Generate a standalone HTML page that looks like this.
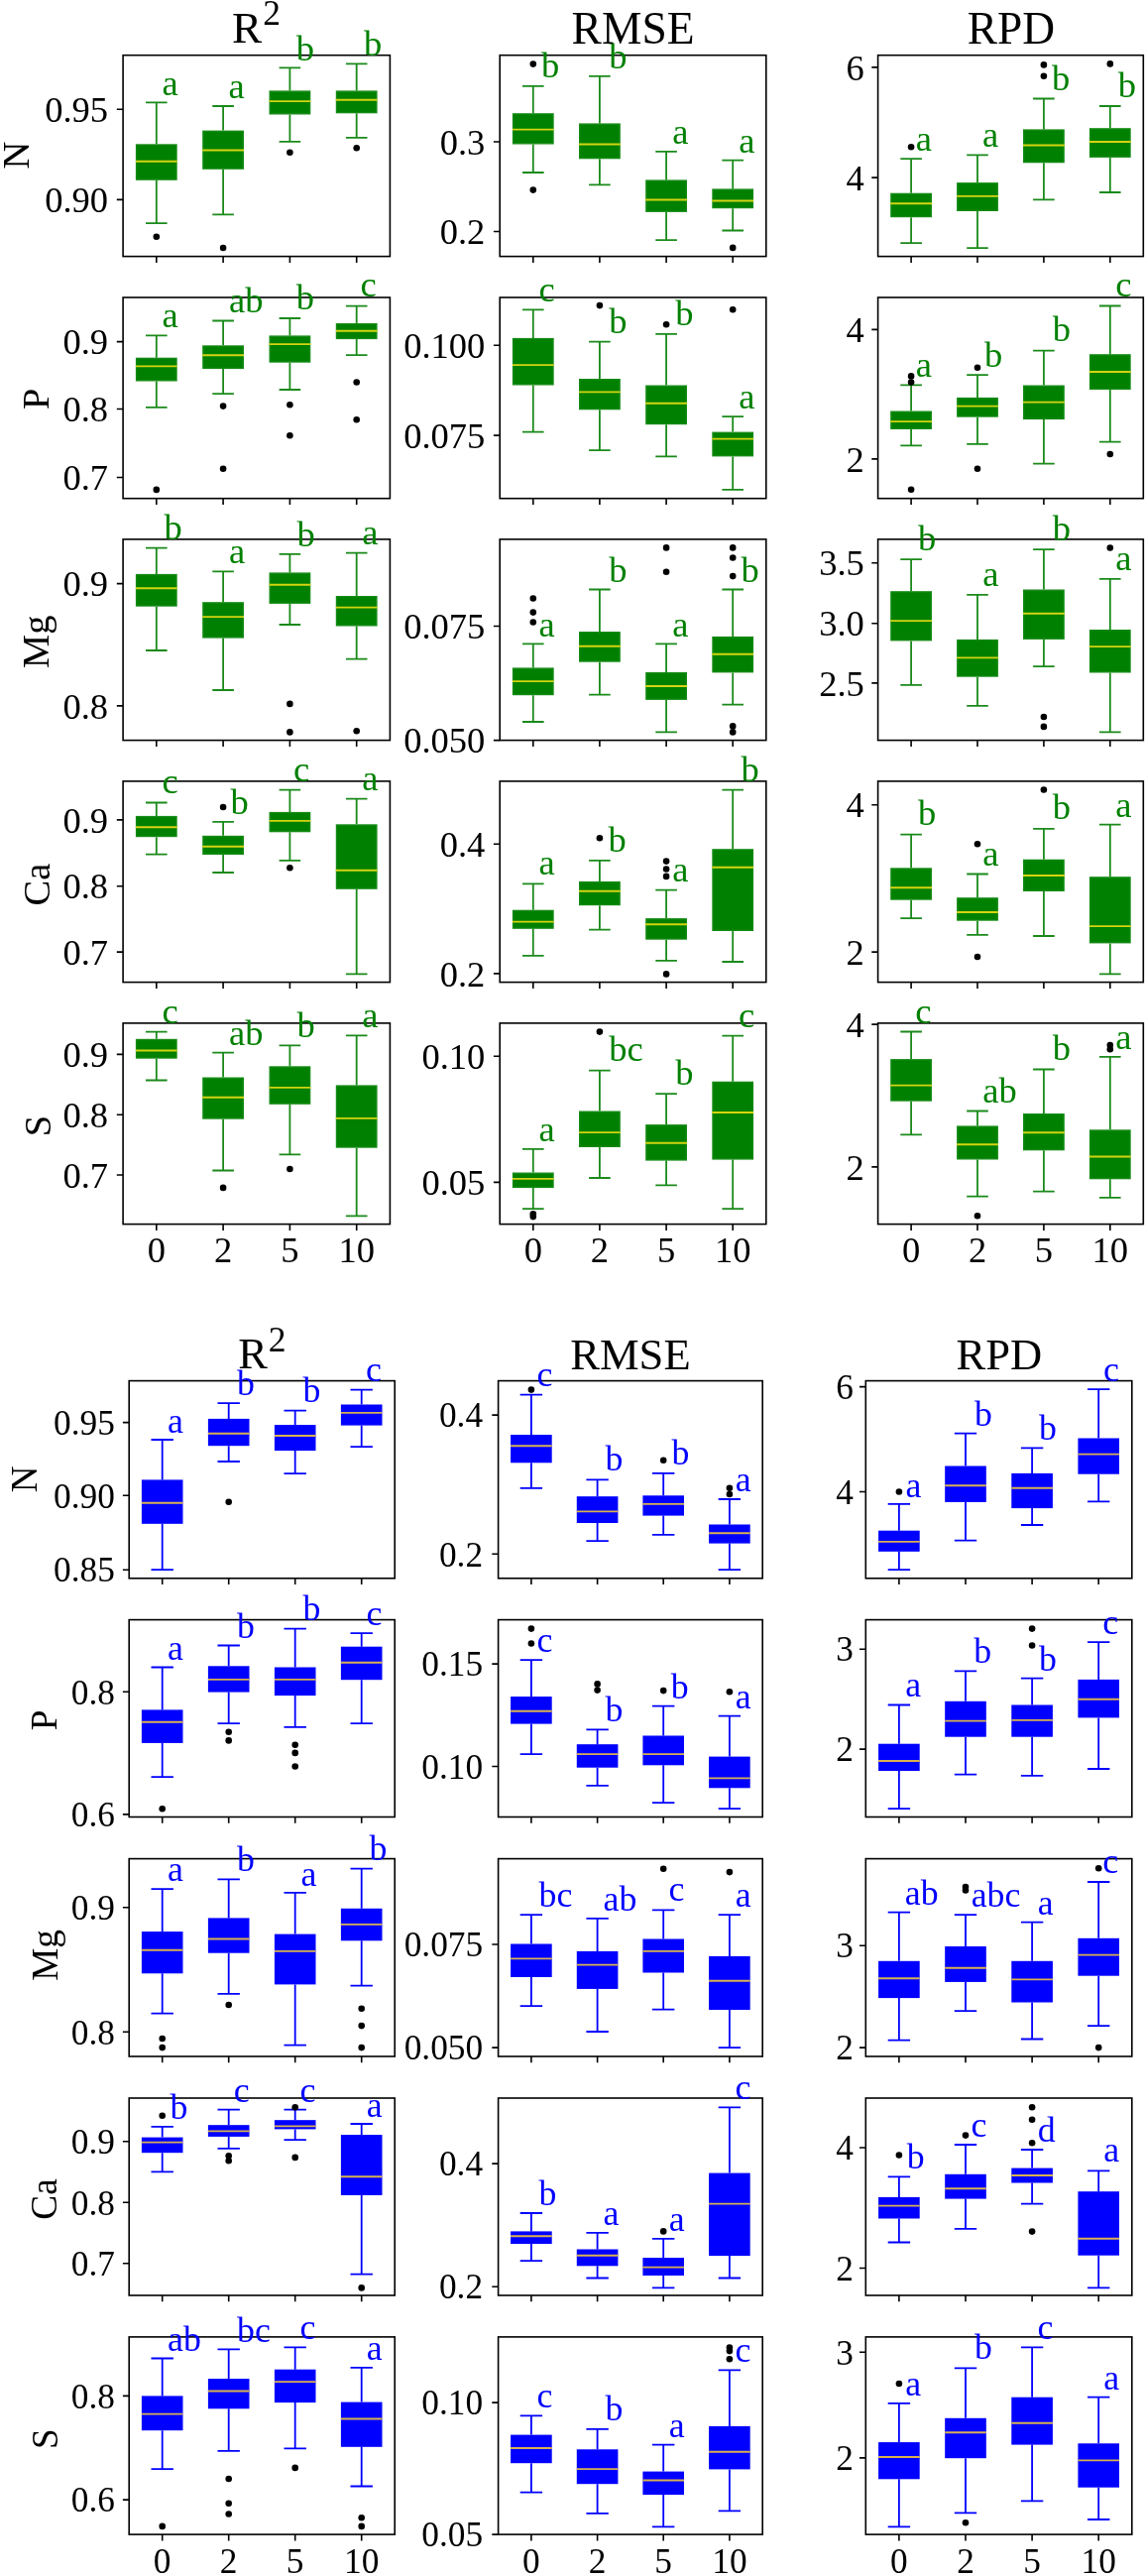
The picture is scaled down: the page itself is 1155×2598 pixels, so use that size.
<!DOCTYPE html>
<html><head><meta charset="utf-8"><style>
html,body{margin:0;padding:0;background:#fff;}
svg{display:block;font-family:"Liberation Serif",serif;will-change:transform;filter:blur(0.35px);}
</style></head><body>
<svg width="1155" height="2598" viewBox="0 0 1155 2598">
<rect width="1155" height="2598" fill="#fff"/>
<g><path d="M157.8 103.3V145.3M157.8 181.8V225.2M147.0 103.3H168.6M147.0 225.2H168.6" stroke="#1a8a1a" stroke-width="1.8" fill="none"/><rect x="137.6" y="146.0" width="40.4" height="35.1" fill="#008000" stroke="#158a15" stroke-width="1.4"/><path d="M136.9 162.8H178.7" stroke="#d4d412" stroke-width="1.9"/><circle cx="157.8" cy="238.7" r="3.3" fill="#000"/><path d="M225.1 107.0V131.6M225.1 170.8V216.4M214.3 107.0H235.9M214.3 216.4H235.9" stroke="#1a8a1a" stroke-width="1.8" fill="none"/><rect x="204.9" y="132.3" width="40.4" height="37.8" fill="#008000" stroke="#158a15" stroke-width="1.4"/><path d="M204.2 151.5H246.0" stroke="#d4d412" stroke-width="1.9"/><circle cx="225.1" cy="250.0" r="3.3" fill="#000"/><path d="M292.4 68.4V91.4M292.4 115.5V142.8M281.6 68.4H303.2M281.6 142.8H303.2" stroke="#1a8a1a" stroke-width="1.8" fill="none"/><rect x="272.2" y="92.1" width="40.4" height="22.7" fill="#008000" stroke="#158a15" stroke-width="1.4"/><path d="M271.5 102.1H313.3" stroke="#d4d412" stroke-width="1.9"/><circle cx="292.4" cy="153.8" r="3.3" fill="#000"/><path d="M359.7 64.4V91.4M359.7 114.3V138.9M348.9 64.4H370.5M348.9 138.9H370.5" stroke="#1a8a1a" stroke-width="1.8" fill="none"/><rect x="339.5" y="92.1" width="40.4" height="21.5" fill="#008000" stroke="#158a15" stroke-width="1.4"/><path d="M338.8 100.8H380.6" stroke="#d4d412" stroke-width="1.9"/><circle cx="359.7" cy="149.3" r="3.3" fill="#000"/><rect x="124.1" y="55.7" width="269.3" height="202.9" fill="none" stroke="#000" stroke-width="1.6"/><path d="M117.8 110.3H124.1M117.8 201.4H124.1M157.8 258.6V264.9M225.1 258.6V264.9M292.4 258.6V264.9M359.7 258.6V264.9" stroke="#000" stroke-width="1.6"/><text x="109.1" y="122.9" font-size="36.5" text-anchor="end">0.95</text><text x="109.1" y="214.0" font-size="36.5" text-anchor="end">0.90</text><text x="163.5" y="95.6" font-size="36.5" fill="#008000">a</text><text x="230.5" y="99.3" font-size="36.5" fill="#008000">a</text><text x="298.8" y="60.8" font-size="36.5" fill="#008000">b</text><text x="367.0" y="56.4" font-size="36.5" fill="#008000">b</text></g>
<g><path d="M537.8 86.9V114.2M537.8 145.5V174.0M527.0 86.9H548.6M527.0 174.0H548.6" stroke="#1a8a1a" stroke-width="1.8" fill="none"/><rect x="517.6" y="114.9" width="40.4" height="29.9" fill="#008000" stroke="#158a15" stroke-width="1.4"/><path d="M516.9 130.6H558.7" stroke="#d4d412" stroke-width="1.9"/><circle cx="537.8" cy="64.6" r="3.3" fill="#000"/><circle cx="537.8" cy="191.6" r="3.3" fill="#000"/><path d="M604.9 76.8V124.4M604.9 160.3V186.4M594.1 76.8H615.7M594.1 186.4H615.7" stroke="#1a8a1a" stroke-width="1.8" fill="none"/><rect x="584.7" y="125.1" width="40.4" height="34.5" fill="#008000" stroke="#158a15" stroke-width="1.4"/><path d="M584.0 145.5H625.8" stroke="#d4d412" stroke-width="1.9"/><path d="M672.1 152.9V181.4M672.1 213.9V242.2M661.3 152.9H682.9M661.3 242.2H682.9" stroke="#1a8a1a" stroke-width="1.8" fill="none"/><rect x="651.9" y="182.1" width="40.4" height="31.1" fill="#008000" stroke="#158a15" stroke-width="1.4"/><path d="M651.2 201.5H693.0" stroke="#d4d412" stroke-width="1.9"/><path d="M739.2 161.6V190.4M739.2 210.2V232.5M728.4 161.6H750.0M728.4 232.5H750.0" stroke="#1a8a1a" stroke-width="1.8" fill="none"/><rect x="719.0" y="191.1" width="40.4" height="18.4" fill="#008000" stroke="#158a15" stroke-width="1.4"/><path d="M718.3 202.5H760.1" stroke="#d4d412" stroke-width="1.9"/><circle cx="739.2" cy="249.9" r="3.3" fill="#000"/><rect x="504.2" y="55.7" width="268.6" height="202.9" fill="none" stroke="#000" stroke-width="1.6"/><path d="M497.9 143.0H504.2M497.9 233.5H504.2M537.8 258.6V264.9M604.9 258.6V264.9M672.1 258.6V264.9M739.2 258.6V264.9" stroke="#000" stroke-width="1.6"/><text x="489.3" y="155.6" font-size="36.5" text-anchor="end">0.3</text><text x="489.3" y="246.1" font-size="36.5" text-anchor="end">0.2</text><text x="546.1" y="78.0" font-size="36.5" fill="#008000">b</text><text x="614.3" y="68.8" font-size="36.5" fill="#008000">b</text><text x="678.2" y="145.2" font-size="36.5" fill="#008000">a</text><text x="745.2" y="153.6" font-size="36.5" fill="#008000">a</text></g>
<g><path d="M919.1 160.1V194.7M919.1 219.2V245.1M908.3 160.1H929.9M908.3 245.1H929.9" stroke="#1a8a1a" stroke-width="1.8" fill="none"/><rect x="898.9" y="195.4" width="40.4" height="23.1" fill="#008000" stroke="#158a15" stroke-width="1.4"/><path d="M898.2 205.3H940.0" stroke="#d4d412" stroke-width="1.9"/><circle cx="919.1" cy="148.2" r="3.3" fill="#000"/><path d="M986.0 156.4V184.1M986.0 213.0V250.1M975.2 156.4H996.8M975.2 250.1H996.8" stroke="#1a8a1a" stroke-width="1.8" fill="none"/><rect x="965.8" y="184.8" width="40.4" height="27.5" fill="#008000" stroke="#158a15" stroke-width="1.4"/><path d="M965.1 197.9H1006.9" stroke="#d4d412" stroke-width="1.9"/><path d="M1052.9 99.5V130.4M1052.9 164.3V201.4M1042.1 99.5H1063.7M1042.1 201.4H1063.7" stroke="#1a8a1a" stroke-width="1.8" fill="none"/><rect x="1032.7" y="131.1" width="40.4" height="32.5" fill="#008000" stroke="#158a15" stroke-width="1.4"/><path d="M1032.0 146.5H1073.8" stroke="#d4d412" stroke-width="1.9"/><circle cx="1052.9" cy="65.4" r="3.3" fill="#000"/><circle cx="1052.9" cy="76.8" r="3.3" fill="#000"/><path d="M1119.8 107.0V129.2M1119.8 158.9V194.0M1109.0 107.0H1130.6M1109.0 194.0H1130.6" stroke="#1a8a1a" stroke-width="1.8" fill="none"/><rect x="1099.6" y="129.9" width="40.4" height="28.3" fill="#008000" stroke="#158a15" stroke-width="1.4"/><path d="M1098.9 143.0H1140.7" stroke="#d4d412" stroke-width="1.9"/><circle cx="1119.8" cy="64.4" r="3.3" fill="#000"/><rect x="885.6" y="55.7" width="267.7" height="202.9" fill="none" stroke="#000" stroke-width="1.6"/><path d="M879.3 67.9H885.6M879.3 179.1H885.6M919.1 258.6V264.9M986.0 258.6V264.9M1052.9 258.6V264.9M1119.8 258.6V264.9" stroke="#000" stroke-width="1.6"/><text x="871.8" y="80.5" font-size="36.5" text-anchor="end">6</text><text x="871.8" y="191.7" font-size="36.5" text-anchor="end">4</text><text x="923.8" y="152.1" font-size="36.5" fill="#008000">a</text><text x="991.1" y="147.7" font-size="36.5" fill="#008000">a</text><text x="1061.0" y="90.8" font-size="36.5" fill="#008000">b</text><text x="1127.8" y="98.3" font-size="36.5" fill="#008000">b</text></g>
<g><path d="M157.8 338.4V360.7M157.8 384.5V410.8M147.0 338.4H168.6M147.0 410.8H168.6" stroke="#1a8a1a" stroke-width="1.8" fill="none"/><rect x="137.6" y="361.4" width="40.4" height="22.4" fill="#008000" stroke="#158a15" stroke-width="1.4"/><path d="M136.9 369.4H178.7" stroke="#d4d412" stroke-width="1.9"/><circle cx="157.8" cy="493.9" r="3.3" fill="#000"/><path d="M225.1 323.5V348.3M225.1 372.1V397.2M214.3 323.5H235.9M214.3 397.2H235.9" stroke="#1a8a1a" stroke-width="1.8" fill="none"/><rect x="204.9" y="349.0" width="40.4" height="22.4" fill="#008000" stroke="#158a15" stroke-width="1.4"/><path d="M204.2 358.2H246.0" stroke="#d4d412" stroke-width="1.9"/><circle cx="225.1" cy="409.6" r="3.3" fill="#000"/><circle cx="225.1" cy="472.8" r="3.3" fill="#000"/><path d="M292.4 321.0V338.4M292.4 365.7V393.0M281.6 321.0H303.2M281.6 393.0H303.2" stroke="#1a8a1a" stroke-width="1.8" fill="none"/><rect x="272.2" y="339.1" width="40.4" height="25.9" fill="#008000" stroke="#158a15" stroke-width="1.4"/><path d="M271.5 347.1H313.3" stroke="#d4d412" stroke-width="1.9"/><circle cx="292.4" cy="408.3" r="3.3" fill="#000"/><circle cx="292.4" cy="439.3" r="3.3" fill="#000"/><path d="M359.7 308.6V326.0M359.7 342.1V358.2M348.9 308.6H370.5M348.9 358.2H370.5" stroke="#1a8a1a" stroke-width="1.8" fill="none"/><rect x="339.5" y="326.7" width="40.4" height="14.7" fill="#008000" stroke="#158a15" stroke-width="1.4"/><path d="M338.8 333.7H380.6" stroke="#d4d412" stroke-width="1.9"/><circle cx="359.7" cy="385.5" r="3.3" fill="#000"/><circle cx="359.7" cy="423.2" r="3.3" fill="#000"/><rect x="124.1" y="300.0" width="269.3" height="202.7" fill="none" stroke="#000" stroke-width="1.6"/><path d="M117.8 344.6H124.1M117.8 412.5H124.1M117.8 481.5H124.1M157.8 502.7V509.0M225.1 502.7V509.0M292.4 502.7V509.0M359.7 502.7V509.0" stroke="#000" stroke-width="1.6"/><text x="109.1" y="357.2" font-size="36.5" text-anchor="end">0.9</text><text x="109.1" y="425.1" font-size="36.5" text-anchor="end">0.8</text><text x="109.1" y="494.1" font-size="36.5" text-anchor="end">0.7</text><text x="163.5" y="330.2" font-size="36.5" fill="#008000">a</text><text x="231.0" y="315.3" font-size="36.5" fill="#008000">ab</text><text x="298.8" y="312.3" font-size="36.5" fill="#008000">b</text><text x="363.6" y="299.4" font-size="36.5" fill="#008000">c</text></g>
<g><path d="M537.8 312.3V340.9M537.8 388.5V435.6M527.0 312.3H548.6M527.0 435.6H548.6" stroke="#1a8a1a" stroke-width="1.8" fill="none"/><rect x="517.6" y="341.6" width="40.4" height="46.2" fill="#008000" stroke="#158a15" stroke-width="1.4"/><path d="M516.9 368.1H558.7" stroke="#d4d412" stroke-width="1.9"/><path d="M604.9 344.6V382.0M604.9 413.3V454.2M594.1 344.6H615.7M594.1 454.2H615.7" stroke="#1a8a1a" stroke-width="1.8" fill="none"/><rect x="584.7" y="382.7" width="40.4" height="29.9" fill="#008000" stroke="#158a15" stroke-width="1.4"/><path d="M584.0 395.4H625.8" stroke="#d4d412" stroke-width="1.9"/><circle cx="604.9" cy="308.1" r="3.3" fill="#000"/><path d="M672.1 336.9V388.5M672.1 428.2V460.4M661.3 336.9H682.9M661.3 460.4H682.9" stroke="#1a8a1a" stroke-width="1.8" fill="none"/><rect x="651.9" y="389.2" width="40.4" height="38.3" fill="#008000" stroke="#158a15" stroke-width="1.4"/><path d="M651.2 406.8H693.0" stroke="#d4d412" stroke-width="1.9"/><circle cx="672.1" cy="327.2" r="3.3" fill="#000"/><path d="M739.2 420.2V435.6M739.2 460.4V493.9M728.4 420.2H750.0M728.4 493.9H750.0" stroke="#1a8a1a" stroke-width="1.8" fill="none"/><rect x="719.0" y="436.3" width="40.4" height="23.4" fill="#008000" stroke="#158a15" stroke-width="1.4"/><path d="M718.3 442.6H760.1" stroke="#d4d412" stroke-width="1.9"/><circle cx="739.2" cy="312.3" r="3.3" fill="#000"/><rect x="504.2" y="300.0" width="268.6" height="202.7" fill="none" stroke="#000" stroke-width="1.6"/><path d="M497.9 348.3H504.2M497.9 439.1H504.2M537.8 502.7V509.0M604.9 502.7V509.0M672.1 502.7V509.0M739.2 502.7V509.0" stroke="#000" stroke-width="1.6"/><text x="489.3" y="360.9" font-size="36.5" text-anchor="end">0.100</text><text x="489.3" y="451.7" font-size="36.5" text-anchor="end">0.075</text><text x="543.4" y="303.6" font-size="36.5" fill="#008000">c</text><text x="614.3" y="335.9" font-size="36.5" fill="#008000">b</text><text x="681.3" y="328.4" font-size="36.5" fill="#008000">b</text><text x="745.2" y="411.5" font-size="36.5" fill="#008000">a</text></g>
<g><path d="M919.1 388.3V414.5M919.1 433.0V449.3M908.3 388.3H929.9M908.3 449.3H929.9" stroke="#1a8a1a" stroke-width="1.8" fill="none"/><rect x="898.9" y="415.2" width="40.4" height="17.1" fill="#008000" stroke="#158a15" stroke-width="1.4"/><path d="M898.2 425.1H940.0" stroke="#d4d412" stroke-width="1.9"/><circle cx="919.1" cy="379.4" r="3.3" fill="#000"/><circle cx="919.1" cy="385.6" r="3.3" fill="#000"/><circle cx="919.1" cy="493.8" r="3.3" fill="#000"/><path d="M986.0 378.2V400.9M986.0 420.7V447.9M975.2 378.2H996.8M975.2 447.9H996.8" stroke="#1a8a1a" stroke-width="1.8" fill="none"/><rect x="965.8" y="401.6" width="40.4" height="18.4" fill="#008000" stroke="#158a15" stroke-width="1.4"/><path d="M965.1 409.6H1006.9" stroke="#d4d412" stroke-width="1.9"/><circle cx="986.0" cy="370.7" r="3.3" fill="#000"/><circle cx="986.0" cy="472.8" r="3.3" fill="#000"/><path d="M1052.9 353.7V388.5M1052.9 423.1V467.6M1042.1 353.7H1063.7M1042.1 467.6H1063.7" stroke="#1a8a1a" stroke-width="1.8" fill="none"/><rect x="1032.7" y="389.2" width="40.4" height="33.2" fill="#008000" stroke="#158a15" stroke-width="1.4"/><path d="M1032.0 405.6H1073.8" stroke="#d4d412" stroke-width="1.9"/><path d="M1119.8 308.5V357.2M1119.8 393.0V445.6M1109.0 308.5H1130.6M1109.0 445.6H1130.6" stroke="#1a8a1a" stroke-width="1.8" fill="none"/><rect x="1099.6" y="357.9" width="40.4" height="34.4" fill="#008000" stroke="#158a15" stroke-width="1.4"/><path d="M1098.9 375.0H1140.7" stroke="#d4d412" stroke-width="1.9"/><circle cx="1119.8" cy="458.0" r="3.3" fill="#000"/><rect x="885.6" y="300.0" width="267.7" height="202.7" fill="none" stroke="#000" stroke-width="1.6"/><path d="M879.3 332.4H885.6M879.3 462.9H885.6M919.1 502.7V509.0M986.0 502.7V509.0M1052.9 502.7V509.0M1119.8 502.7V509.0" stroke="#000" stroke-width="1.6"/><text x="871.8" y="345.0" font-size="36.5" text-anchor="end">4</text><text x="871.8" y="475.5" font-size="36.5" text-anchor="end">2</text><text x="923.8" y="380.1" font-size="36.5" fill="#008000">a</text><text x="993.1" y="370.2" font-size="36.5" fill="#008000">b</text><text x="1061.8" y="344.3" font-size="36.5" fill="#008000">b</text><text x="1125.2" y="299.3" font-size="36.5" fill="#008000">c</text></g>
<g><path d="M157.8 552.6V578.9M157.8 611.7V656.0M147.0 552.6H168.6M147.0 656.0H168.6" stroke="#1a8a1a" stroke-width="1.8" fill="none"/><rect x="137.6" y="579.6" width="40.4" height="31.4" fill="#008000" stroke="#158a15" stroke-width="1.4"/><path d="M136.9 593.3H178.7" stroke="#d4d412" stroke-width="1.9"/><path d="M225.1 576.4V607.2M225.1 643.6V696.0M214.3 576.4H235.9M214.3 696.0H235.9" stroke="#1a8a1a" stroke-width="1.8" fill="none"/><rect x="204.9" y="607.9" width="40.4" height="35.0" fill="#008000" stroke="#158a15" stroke-width="1.4"/><path d="M204.2 622.1H246.0" stroke="#d4d412" stroke-width="1.9"/><path d="M292.4 558.8V577.4M292.4 608.9V630.0M281.6 558.8H303.2M281.6 630.0H303.2" stroke="#1a8a1a" stroke-width="1.8" fill="none"/><rect x="272.2" y="578.1" width="40.4" height="30.1" fill="#008000" stroke="#158a15" stroke-width="1.4"/><path d="M271.5 589.8H313.3" stroke="#d4d412" stroke-width="1.9"/><circle cx="292.4" cy="709.9" r="3.3" fill="#000"/><circle cx="292.4" cy="738.4" r="3.3" fill="#000"/><path d="M359.7 557.6V601.0M359.7 631.5V664.7M348.9 557.6H370.5M348.9 664.7H370.5" stroke="#1a8a1a" stroke-width="1.8" fill="none"/><rect x="339.5" y="601.7" width="40.4" height="29.1" fill="#008000" stroke="#158a15" stroke-width="1.4"/><path d="M338.8 612.6H380.6" stroke="#d4d412" stroke-width="1.9"/><circle cx="359.7" cy="737.2" r="3.3" fill="#000"/><rect x="124.1" y="543.9" width="269.3" height="202.7" fill="none" stroke="#000" stroke-width="1.6"/><path d="M117.8 588.6H124.1M117.8 711.9H124.1M157.8 746.6V752.9M225.1 746.6V752.9M292.4 746.6V752.9M359.7 746.6V752.9" stroke="#000" stroke-width="1.6"/><text x="109.1" y="601.2" font-size="36.5" text-anchor="end">0.9</text><text x="109.1" y="724.5" font-size="36.5" text-anchor="end">0.8</text><text x="165.6" y="543.9" font-size="36.5" fill="#008000">b</text><text x="231.0" y="567.5" font-size="36.5" fill="#008000">a</text><text x="299.5" y="550.8" font-size="36.5" fill="#008000">b</text><text x="365.2" y="549.4" font-size="36.5" fill="#008000">a</text></g>
<g><path d="M537.8 649.4V673.4M537.8 701.2V728.0M527.0 649.4H548.6M527.0 728.0H548.6" stroke="#1a8a1a" stroke-width="1.8" fill="none"/><rect x="517.6" y="674.1" width="40.4" height="26.4" fill="#008000" stroke="#158a15" stroke-width="1.4"/><path d="M516.9 687.1H558.7" stroke="#d4d412" stroke-width="1.9"/><circle cx="537.8" cy="603.5" r="3.3" fill="#000"/><circle cx="537.8" cy="617.6" r="3.3" fill="#000"/><circle cx="537.8" cy="627.5" r="3.3" fill="#000"/><path d="M604.9 594.5V637.0M604.9 667.7V700.7M594.1 594.5H615.7M594.1 700.7H615.7" stroke="#1a8a1a" stroke-width="1.8" fill="none"/><rect x="584.7" y="637.7" width="40.4" height="29.3" fill="#008000" stroke="#158a15" stroke-width="1.4"/><path d="M584.0 651.8H625.8" stroke="#d4d412" stroke-width="1.9"/><path d="M672.1 649.4V677.9M672.1 705.9V738.4M661.3 649.4H682.9M661.3 738.4H682.9" stroke="#1a8a1a" stroke-width="1.8" fill="none"/><rect x="651.9" y="678.6" width="40.4" height="26.6" fill="#008000" stroke="#158a15" stroke-width="1.4"/><path d="M651.2 692.0H693.0" stroke="#d4d412" stroke-width="1.9"/><circle cx="672.1" cy="552.4" r="3.3" fill="#000"/><circle cx="672.1" cy="576.7" r="3.3" fill="#000"/><path d="M739.2 594.5V641.9M739.2 678.4V710.6M728.4 594.5H750.0M728.4 710.6H750.0" stroke="#1a8a1a" stroke-width="1.8" fill="none"/><rect x="719.0" y="642.6" width="40.4" height="35.1" fill="#008000" stroke="#158a15" stroke-width="1.4"/><path d="M718.3 659.8H760.1" stroke="#d4d412" stroke-width="1.9"/><circle cx="739.2" cy="552.4" r="3.3" fill="#000"/><circle cx="739.2" cy="562.5" r="3.3" fill="#000"/><circle cx="739.2" cy="581.1" r="3.3" fill="#000"/><circle cx="739.2" cy="732.4" r="3.3" fill="#000"/><circle cx="739.2" cy="738.4" r="3.3" fill="#000"/><rect x="504.2" y="543.9" width="268.6" height="202.7" fill="none" stroke="#000" stroke-width="1.6"/><path d="M497.9 631.5H504.2M497.9 746.6H504.2M537.8 746.6V752.9M604.9 746.6V752.9M672.1 746.6V752.9M739.2 746.6V752.9" stroke="#000" stroke-width="1.6"/><text x="489.3" y="644.1" font-size="36.5" text-anchor="end">0.075</text><text x="489.3" y="759.2" font-size="36.5" text-anchor="end">0.050</text><text x="543.5" y="641.9" font-size="36.5" fill="#008000">a</text><text x="614.3" y="586.6" font-size="36.5" fill="#008000">b</text><text x="678.2" y="641.9" font-size="36.5" fill="#008000">a</text><text x="747.5" y="586.6" font-size="36.5" fill="#008000">b</text></g>
<g><path d="M919.1 564.1V596.2M919.1 646.4V690.9M908.3 564.1H929.9M908.3 690.9H929.9" stroke="#1a8a1a" stroke-width="1.8" fill="none"/><rect x="898.9" y="596.9" width="40.4" height="48.8" fill="#008000" stroke="#158a15" stroke-width="1.4"/><path d="M898.2 626.1H940.0" stroke="#d4d412" stroke-width="1.9"/><path d="M986.0 599.9V644.9M986.0 682.7V711.9M975.2 599.9H996.8M975.2 711.9H996.8" stroke="#1a8a1a" stroke-width="1.8" fill="none"/><rect x="965.8" y="645.6" width="40.4" height="36.4" fill="#008000" stroke="#158a15" stroke-width="1.4"/><path d="M965.1 663.4H1006.9" stroke="#d4d412" stroke-width="1.9"/><path d="M1052.9 554.2V594.5M1052.9 644.9V672.1M1042.1 554.2H1063.7M1042.1 672.1H1063.7" stroke="#1a8a1a" stroke-width="1.8" fill="none"/><rect x="1032.7" y="595.2" width="40.4" height="49.0" fill="#008000" stroke="#158a15" stroke-width="1.4"/><path d="M1032.0 618.7H1073.8" stroke="#d4d412" stroke-width="1.9"/><circle cx="1052.9" cy="723.0" r="3.3" fill="#000"/><circle cx="1052.9" cy="732.9" r="3.3" fill="#000"/><path d="M1119.8 583.9V635.0M1119.8 678.5V738.3M1109.0 583.9H1130.6M1109.0 738.3H1130.6" stroke="#1a8a1a" stroke-width="1.8" fill="none"/><rect x="1099.6" y="635.7" width="40.4" height="42.1" fill="#008000" stroke="#158a15" stroke-width="1.4"/><path d="M1098.9 652.1H1140.7" stroke="#d4d412" stroke-width="1.9"/><circle cx="1119.8" cy="552.5" r="3.3" fill="#000"/><rect x="885.6" y="543.9" width="267.7" height="202.7" fill="none" stroke="#000" stroke-width="1.6"/><path d="M879.3 567.8H885.6M879.3 628.8H885.6M879.3 688.9H885.6M919.1 746.6V752.9M986.0 746.6V752.9M1052.9 746.6V752.9M1119.8 746.6V752.9" stroke="#000" stroke-width="1.6"/><text x="871.8" y="580.4" font-size="36.5" text-anchor="end">3.5</text><text x="871.8" y="641.4" font-size="36.5" text-anchor="end">3.0</text><text x="871.8" y="701.5" font-size="36.5" text-anchor="end">2.5</text><text x="925.9" y="554.9" font-size="36.5" fill="#008000">b</text><text x="991.3" y="591.2" font-size="36.5" fill="#008000">a</text><text x="1061.8" y="545.0" font-size="36.5" fill="#008000">b</text><text x="1125.3" y="574.7" font-size="36.5" fill="#008000">a</text></g>
<g><path d="M157.8 809.5V822.9M157.8 844.2V861.6M147.0 809.5H168.6M147.0 861.6H168.6" stroke="#1a8a1a" stroke-width="1.8" fill="none"/><rect x="137.6" y="823.6" width="40.4" height="19.9" fill="#008000" stroke="#158a15" stroke-width="1.4"/><path d="M136.9 834.3H178.7" stroke="#d4d412" stroke-width="1.9"/><path d="M225.1 828.9V842.8M225.1 862.1V880.0M214.3 828.9H235.9M214.3 880.0H235.9" stroke="#1a8a1a" stroke-width="1.8" fill="none"/><rect x="204.9" y="843.5" width="40.4" height="17.9" fill="#008000" stroke="#158a15" stroke-width="1.4"/><path d="M204.2 853.7H246.0" stroke="#d4d412" stroke-width="1.9"/><circle cx="225.1" cy="814.0" r="3.3" fill="#000"/><path d="M292.4 796.6V818.9M292.4 839.3V867.8M281.6 796.6H303.2M281.6 867.8H303.2" stroke="#1a8a1a" stroke-width="1.8" fill="none"/><rect x="272.2" y="819.6" width="40.4" height="19.0" fill="#008000" stroke="#158a15" stroke-width="1.4"/><path d="M271.5 827.9H313.3" stroke="#d4d412" stroke-width="1.9"/><circle cx="292.4" cy="875.2" r="3.3" fill="#000"/><path d="M359.7 805.6V831.3M359.7 896.8V982.4M348.9 805.6H370.5M348.9 982.4H370.5" stroke="#1a8a1a" stroke-width="1.8" fill="none"/><rect x="339.5" y="832.0" width="40.4" height="64.1" fill="#008000" stroke="#158a15" stroke-width="1.4"/><path d="M338.8 877.7H380.6" stroke="#d4d412" stroke-width="1.9"/><rect x="124.1" y="787.9" width="269.3" height="202.7" fill="none" stroke="#000" stroke-width="1.6"/><path d="M117.8 826.9H124.1M117.8 893.8H124.1M117.8 960.1H124.1M157.8 990.6V996.9M225.1 990.6V996.9M292.4 990.6V996.9M359.7 990.6V996.9" stroke="#000" stroke-width="1.6"/><text x="109.1" y="839.5" font-size="36.5" text-anchor="end">0.9</text><text x="109.1" y="906.4" font-size="36.5" text-anchor="end">0.8</text><text x="109.1" y="972.7" font-size="36.5" text-anchor="end">0.7</text><text x="163.4" y="800.3" font-size="36.5" fill="#008000">c</text><text x="232.6" y="820.6" font-size="36.5" fill="#008000">b</text><text x="296.1" y="788.4" font-size="36.5" fill="#008000">c</text><text x="365.2" y="797.3" font-size="36.5" fill="#008000">a</text></g>
<g><path d="M537.8 891.4V917.7M537.8 936.8V963.8M527.0 891.4H548.6M527.0 963.8H548.6" stroke="#1a8a1a" stroke-width="1.8" fill="none"/><rect x="517.6" y="918.4" width="40.4" height="17.7" fill="#008000" stroke="#158a15" stroke-width="1.4"/><path d="M516.9 929.6H558.7" stroke="#d4d412" stroke-width="1.9"/><path d="M604.9 867.8V888.9M604.9 913.2V937.7M594.1 867.8H615.7M594.1 937.7H615.7" stroke="#1a8a1a" stroke-width="1.8" fill="none"/><rect x="584.7" y="889.6" width="40.4" height="22.9" fill="#008000" stroke="#158a15" stroke-width="1.4"/><path d="M584.0 898.8H625.8" stroke="#d4d412" stroke-width="1.9"/><circle cx="604.9" cy="845.2" r="3.3" fill="#000"/><path d="M672.1 897.6V926.1M672.1 947.7V968.8M661.3 897.6H682.9M661.3 968.8H682.9" stroke="#1a8a1a" stroke-width="1.8" fill="none"/><rect x="651.9" y="926.8" width="40.4" height="20.2" fill="#008000" stroke="#158a15" stroke-width="1.4"/><path d="M651.2 932.3H693.0" stroke="#d4d412" stroke-width="1.9"/><circle cx="672.1" cy="868.6" r="3.3" fill="#000"/><circle cx="672.1" cy="876.5" r="3.3" fill="#000"/><circle cx="672.1" cy="883.9" r="3.3" fill="#000"/><circle cx="672.1" cy="982.4" r="3.3" fill="#000"/><path d="M739.2 796.6V856.2M739.2 939.0V970.0M728.4 796.6H750.0M728.4 970.0H750.0" stroke="#1a8a1a" stroke-width="1.8" fill="none"/><rect x="719.0" y="856.9" width="40.4" height="81.4" fill="#008000" stroke="#158a15" stroke-width="1.4"/><path d="M718.3 874.8H760.1" stroke="#d4d412" stroke-width="1.9"/><rect x="504.2" y="787.9" width="268.6" height="202.7" fill="none" stroke="#000" stroke-width="1.6"/><path d="M497.9 851.2H504.2M497.9 981.9H504.2M537.8 990.6V996.9M604.9 990.6V996.9M672.1 990.6V996.9M739.2 990.6V996.9" stroke="#000" stroke-width="1.6"/><text x="489.3" y="863.8" font-size="36.5" text-anchor="end">0.4</text><text x="489.3" y="994.5" font-size="36.5" text-anchor="end">0.2</text><text x="543.5" y="882.1" font-size="36.5" fill="#008000">a</text><text x="613.5" y="859.3" font-size="36.5" fill="#008000">b</text><text x="678.2" y="889.1" font-size="36.5" fill="#008000">a</text><text x="747.5" y="788.4" font-size="36.5" fill="#008000">b</text></g>
<g><path d="M919.1 841.7V875.3M919.1 907.7V926.2M908.3 841.7H929.9M908.3 926.2H929.9" stroke="#1a8a1a" stroke-width="1.8" fill="none"/><rect x="898.9" y="876.0" width="40.4" height="31.0" fill="#008000" stroke="#158a15" stroke-width="1.4"/><path d="M898.2 895.3H940.0" stroke="#d4d412" stroke-width="1.9"/><path d="M986.0 881.5V905.2M986.0 928.7V942.8M975.2 881.5H996.8M975.2 942.8H996.8" stroke="#1a8a1a" stroke-width="1.8" fill="none"/><rect x="965.8" y="905.9" width="40.4" height="22.1" fill="#008000" stroke="#158a15" stroke-width="1.4"/><path d="M965.1 920.0H1006.9" stroke="#d4d412" stroke-width="1.9"/><circle cx="986.0" cy="851.3" r="3.3" fill="#000"/><circle cx="986.0" cy="965.0" r="3.3" fill="#000"/><path d="M1052.9 835.8V866.7M1052.9 899.0V944.0M1042.1 835.8H1063.7M1042.1 944.0H1063.7" stroke="#1a8a1a" stroke-width="1.8" fill="none"/><rect x="1032.7" y="867.4" width="40.4" height="30.9" fill="#008000" stroke="#158a15" stroke-width="1.4"/><path d="M1032.0 883.0H1073.8" stroke="#d4d412" stroke-width="1.9"/><circle cx="1052.9" cy="796.5" r="3.3" fill="#000"/><path d="M1119.8 831.6V884.2M1119.8 951.4V982.3M1109.0 831.6H1130.6M1109.0 982.3H1130.6" stroke="#1a8a1a" stroke-width="1.8" fill="none"/><rect x="1099.6" y="884.9" width="40.4" height="65.8" fill="#008000" stroke="#158a15" stroke-width="1.4"/><path d="M1098.9 934.1H1140.7" stroke="#d4d412" stroke-width="1.9"/><rect x="885.6" y="787.9" width="267.7" height="202.7" fill="none" stroke="#000" stroke-width="1.6"/><path d="M879.3 811.8H885.6M879.3 960.1H885.6M919.1 990.6V996.9M986.0 990.6V996.9M1052.9 990.6V996.9M1119.8 990.6V996.9" stroke="#000" stroke-width="1.6"/><text x="871.8" y="824.4" font-size="36.5" text-anchor="end">4</text><text x="871.8" y="972.7" font-size="36.5" text-anchor="end">2</text><text x="925.9" y="832.3" font-size="36.5" fill="#008000">b</text><text x="991.3" y="873.0" font-size="36.5" fill="#008000">a</text><text x="1061.8" y="826.1" font-size="36.5" fill="#008000">b</text><text x="1125.3" y="823.6" font-size="36.5" fill="#008000">a</text></g>
<g><path d="M157.8 1040.6V1047.8M157.8 1067.7V1089.5M147.0 1040.6H168.6M147.0 1089.5H168.6" stroke="#1a8a1a" stroke-width="1.8" fill="none"/><rect x="137.6" y="1048.5" width="40.4" height="18.5" fill="#008000" stroke="#158a15" stroke-width="1.4"/><path d="M136.9 1059.5H178.7" stroke="#d4d412" stroke-width="1.9"/><path d="M225.1 1061.7V1086.5M225.1 1128.7V1180.5M214.3 1061.7H235.9M214.3 1180.5H235.9" stroke="#1a8a1a" stroke-width="1.8" fill="none"/><rect x="204.9" y="1087.2" width="40.4" height="40.8" fill="#008000" stroke="#158a15" stroke-width="1.4"/><path d="M204.2 1106.8H246.0" stroke="#d4d412" stroke-width="1.9"/><circle cx="225.1" cy="1197.9" r="3.3" fill="#000"/><path d="M292.4 1054.3V1075.3M292.4 1113.8V1164.4M281.6 1054.3H303.2M281.6 1164.4H303.2" stroke="#1a8a1a" stroke-width="1.8" fill="none"/><rect x="272.2" y="1076.0" width="40.4" height="37.1" fill="#008000" stroke="#158a15" stroke-width="1.4"/><path d="M271.5 1096.9H313.3" stroke="#d4d412" stroke-width="1.9"/><circle cx="292.4" cy="1179.0" r="3.3" fill="#000"/><path d="M359.7 1044.3V1094.4M359.7 1157.7V1226.4M348.9 1044.3H370.5M348.9 1226.4H370.5" stroke="#1a8a1a" stroke-width="1.8" fill="none"/><rect x="339.5" y="1095.1" width="40.4" height="61.9" fill="#008000" stroke="#158a15" stroke-width="1.4"/><path d="M338.8 1127.9H380.6" stroke="#d4d412" stroke-width="1.9"/><rect x="124.1" y="1031.9" width="269.3" height="202.7" fill="none" stroke="#000" stroke-width="1.6"/><path d="M117.8 1063.4H124.1M117.8 1124.2H124.1M117.8 1185.0H124.1M157.8 1234.6V1240.9M225.1 1234.6V1240.9M292.4 1234.6V1240.9M359.7 1234.6V1240.9" stroke="#000" stroke-width="1.6"/><text x="109.1" y="1076.0" font-size="36.5" text-anchor="end">0.9</text><text x="109.1" y="1136.8" font-size="36.5" text-anchor="end">0.8</text><text x="109.1" y="1197.6" font-size="36.5" text-anchor="end">0.7</text><text x="157.8" y="1273.4" font-size="36.5" text-anchor="middle">0</text><text x="225.1" y="1273.4" font-size="36.5" text-anchor="middle">2</text><text x="292.4" y="1273.4" font-size="36.5" text-anchor="middle">5</text><text x="359.7" y="1273.4" font-size="36.5" text-anchor="middle">10</text><text x="163.4" y="1031.9" font-size="36.5" fill="#008000">c</text><text x="231.0" y="1053.7" font-size="36.5" fill="#008000">ab</text><text x="299.5" y="1046.3" font-size="36.5" fill="#008000">b</text><text x="365.2" y="1035.6" font-size="36.5" fill="#008000">a</text></g>
<g><path d="M537.8 1158.9V1182.5M537.8 1198.1V1219.2M527.0 1158.9H548.6M527.0 1219.2H548.6" stroke="#1a8a1a" stroke-width="1.8" fill="none"/><rect x="517.6" y="1183.2" width="40.4" height="14.2" fill="#008000" stroke="#158a15" stroke-width="1.4"/><path d="M516.9 1188.9H558.7" stroke="#d4d412" stroke-width="1.9"/><circle cx="537.8" cy="1224.2" r="3.3" fill="#000"/><circle cx="537.8" cy="1227.1" r="3.3" fill="#000"/><path d="M604.9 1079.6V1120.5M604.9 1157.0V1188.0M594.1 1079.6H615.7M594.1 1188.0H615.7" stroke="#1a8a1a" stroke-width="1.8" fill="none"/><rect x="584.7" y="1121.2" width="40.4" height="35.1" fill="#008000" stroke="#158a15" stroke-width="1.4"/><path d="M584.0 1142.1H625.8" stroke="#d4d412" stroke-width="1.9"/><circle cx="604.9" cy="1040.6" r="3.3" fill="#000"/><path d="M672.1 1103.1V1134.1M672.1 1170.6V1195.4M661.3 1103.1H682.9M661.3 1195.4H682.9" stroke="#1a8a1a" stroke-width="1.8" fill="none"/><rect x="651.9" y="1134.8" width="40.4" height="35.1" fill="#008000" stroke="#158a15" stroke-width="1.4"/><path d="M651.2 1152.7H693.0" stroke="#d4d412" stroke-width="1.9"/><path d="M739.2 1044.6V1090.7M739.2 1169.6V1219.2M728.4 1044.6H750.0M728.4 1219.2H750.0" stroke="#1a8a1a" stroke-width="1.8" fill="none"/><rect x="719.0" y="1091.4" width="40.4" height="77.5" fill="#008000" stroke="#158a15" stroke-width="1.4"/><path d="M718.3 1122.0H760.1" stroke="#d4d412" stroke-width="1.9"/><rect x="504.2" y="1031.9" width="268.6" height="202.7" fill="none" stroke="#000" stroke-width="1.6"/><path d="M497.9 1065.2H504.2M497.9 1192.4H504.2M537.8 1234.6V1240.9M604.9 1234.6V1240.9M672.1 1234.6V1240.9M739.2 1234.6V1240.9" stroke="#000" stroke-width="1.6"/><text x="489.3" y="1077.8" font-size="36.5" text-anchor="end">0.10</text><text x="489.3" y="1205.0" font-size="36.5" text-anchor="end">0.05</text><text x="537.8" y="1273.4" font-size="36.5" text-anchor="middle">0</text><text x="604.9" y="1273.4" font-size="36.5" text-anchor="middle">2</text><text x="672.1" y="1273.4" font-size="36.5" text-anchor="middle">5</text><text x="739.2" y="1273.4" font-size="36.5" text-anchor="middle">10</text><text x="543.5" y="1151.0" font-size="36.5" fill="#008000">a</text><text x="614.3" y="1070.3" font-size="36.5" fill="#008000">bc</text><text x="681.3" y="1093.9" font-size="36.5" fill="#008000">b</text><text x="745.1" y="1035.6" font-size="36.5" fill="#008000">c</text></g>
<g><path d="M919.1 1040.5V1068.1M919.1 1110.7V1144.3M908.3 1040.5H929.9M908.3 1144.3H929.9" stroke="#1a8a1a" stroke-width="1.8" fill="none"/><rect x="898.9" y="1068.8" width="40.4" height="41.2" fill="#008000" stroke="#158a15" stroke-width="1.4"/><path d="M898.2 1094.6H940.0" stroke="#d4d412" stroke-width="1.9"/><path d="M986.0 1120.5V1135.4M986.0 1169.5V1206.6M975.2 1120.5H996.8M975.2 1206.6H996.8" stroke="#1a8a1a" stroke-width="1.8" fill="none"/><rect x="965.8" y="1136.1" width="40.4" height="32.7" fill="#008000" stroke="#158a15" stroke-width="1.4"/><path d="M965.1 1154.2H1006.9" stroke="#d4d412" stroke-width="1.9"/><circle cx="986.0" cy="1226.3" r="3.3" fill="#000"/><path d="M1052.9 1078.5V1123.0M1052.9 1160.3V1201.6M1042.1 1078.5H1063.7M1042.1 1201.6H1063.7" stroke="#1a8a1a" stroke-width="1.8" fill="none"/><rect x="1032.7" y="1123.7" width="40.4" height="35.9" fill="#008000" stroke="#158a15" stroke-width="1.4"/><path d="M1032.0 1142.3H1073.8" stroke="#d4d412" stroke-width="1.9"/><path d="M1119.8 1065.9V1139.3M1119.8 1189.3V1207.8M1109.0 1065.9H1130.6M1109.0 1207.8H1130.6" stroke="#1a8a1a" stroke-width="1.8" fill="none"/><rect x="1099.6" y="1140.0" width="40.4" height="48.6" fill="#008000" stroke="#158a15" stroke-width="1.4"/><path d="M1098.9 1166.5H1140.7" stroke="#d4d412" stroke-width="1.9"/><circle cx="1119.8" cy="1054.1" r="3.3" fill="#000"/><circle cx="1119.8" cy="1058.3" r="3.3" fill="#000"/><rect x="885.6" y="1031.9" width="267.7" height="202.7" fill="none" stroke="#000" stroke-width="1.6"/><path d="M879.3 1033.1H885.6M879.3 1176.9H885.6M919.1 1234.6V1240.9M986.0 1234.6V1240.9M1052.9 1234.6V1240.9M1119.8 1234.6V1240.9" stroke="#000" stroke-width="1.6"/><text x="871.8" y="1045.7" font-size="36.5" text-anchor="end">4</text><text x="871.8" y="1189.5" font-size="36.5" text-anchor="end">2</text><text x="919.1" y="1273.4" font-size="36.5" text-anchor="middle">0</text><text x="986.0" y="1273.4" font-size="36.5" text-anchor="middle">2</text><text x="1052.9" y="1273.4" font-size="36.5" text-anchor="middle">5</text><text x="1119.8" y="1273.4" font-size="36.5" text-anchor="middle">10</text><text x="923.2" y="1031.8" font-size="36.5" fill="#008000">c</text><text x="991.3" y="1112.1" font-size="36.5" fill="#008000">ab</text><text x="1061.8" y="1068.8" font-size="36.5" fill="#008000">b</text><text x="1125.3" y="1057.7" font-size="36.5" fill="#008000">a</text></g>
<g><path d="M163.7 1452.0V1492.4M163.7 1536.8V1583.2M152.5 1452.0H174.9M152.5 1583.2H174.9" stroke="#0000ff" stroke-width="1.8" fill="none"/><rect x="143.6" y="1493.1" width="40.2" height="43.0" fill="#0000ff" stroke="#0000ff" stroke-width="1.4"/><path d="M142.9 1515.7H184.5" stroke="#d8b050" stroke-width="1.9"/><path d="M230.7 1415.2V1430.9M230.7 1458.2V1474.0M219.5 1415.2H241.9M219.5 1474.0H241.9" stroke="#0000ff" stroke-width="1.8" fill="none"/><rect x="210.6" y="1431.6" width="40.2" height="25.9" fill="#0000ff" stroke="#0000ff" stroke-width="1.4"/><path d="M209.9 1445.7H251.5" stroke="#d8b050" stroke-width="1.9"/><circle cx="230.7" cy="1514.7" r="3.3" fill="#000"/><path d="M297.7 1422.7V1437.1M297.7 1463.1V1486.2M286.5 1422.7H308.9M286.5 1486.2H308.9" stroke="#0000ff" stroke-width="1.8" fill="none"/><rect x="277.6" y="1437.8" width="40.2" height="24.6" fill="#0000ff" stroke="#0000ff" stroke-width="1.4"/><path d="M276.9 1448.0H318.5" stroke="#d8b050" stroke-width="1.9"/><path d="M364.7 1401.6V1416.5M364.7 1437.6V1459.1M353.5 1401.6H375.9M353.5 1459.1H375.9" stroke="#0000ff" stroke-width="1.8" fill="none"/><rect x="344.6" y="1417.2" width="40.2" height="19.7" fill="#0000ff" stroke="#0000ff" stroke-width="1.4"/><path d="M343.9 1424.9H385.5" stroke="#d8b050" stroke-width="1.9"/><rect x="130.2" y="1392.6" width="268.0" height="199.2" fill="none" stroke="#000" stroke-width="1.6"/><path d="M123.9 1434.6H130.2M123.9 1508.3H130.2M123.9 1583.2H130.2M163.7 1591.8V1598.1M230.7 1591.8V1598.1M297.7 1591.8V1598.1M364.7 1591.8V1598.1" stroke="#000" stroke-width="1.6"/><text x="115.9" y="1446.8" font-size="35.3" text-anchor="end">0.95</text><text x="115.9" y="1520.5" font-size="35.3" text-anchor="end">0.90</text><text x="115.9" y="1595.4" font-size="35.3" text-anchor="end">0.85</text><text x="169.0" y="1444.5" font-size="35.8" fill="#0000ff">a</text><text x="239.0" y="1406.5" font-size="35.8" fill="#0000ff">b</text><text x="305.5" y="1414.0" font-size="35.8" fill="#0000ff">b</text><text x="369.1" y="1392.9" font-size="35.8" fill="#0000ff">c</text></g>
<g><path d="M535.9 1406.6V1447.0M535.9 1475.3V1500.8M524.7 1406.6H547.1M524.7 1500.8H547.1" stroke="#0000ff" stroke-width="1.8" fill="none"/><rect x="515.8" y="1447.7" width="40.2" height="26.9" fill="#0000ff" stroke="#0000ff" stroke-width="1.4"/><path d="M515.1 1458.2H556.7" stroke="#d8b050" stroke-width="1.9"/><circle cx="535.9" cy="1401.6" r="3.3" fill="#000"/><path d="M602.6 1492.4V1509.2M602.6 1536.0V1554.1M591.4 1492.4H613.8M591.4 1554.1H613.8" stroke="#0000ff" stroke-width="1.8" fill="none"/><rect x="582.5" y="1509.9" width="40.2" height="25.4" fill="#0000ff" stroke="#0000ff" stroke-width="1.4"/><path d="M581.8 1524.4H623.4" stroke="#d8b050" stroke-width="1.9"/><path d="M669.2 1485.9V1508.3M669.2 1528.6V1547.9M658.0 1485.9H680.4M658.0 1547.9H680.4" stroke="#0000ff" stroke-width="1.8" fill="none"/><rect x="649.1" y="1509.0" width="40.2" height="18.9" fill="#0000ff" stroke="#0000ff" stroke-width="1.4"/><path d="M648.4 1516.9H690.0" stroke="#d8b050" stroke-width="1.9"/><circle cx="669.2" cy="1472.8" r="3.3" fill="#000"/><path d="M735.9 1512.0V1537.5M735.9 1556.6V1583.2M724.7 1512.0H747.1M724.7 1583.2H747.1" stroke="#0000ff" stroke-width="1.8" fill="none"/><rect x="715.8" y="1538.2" width="40.2" height="17.7" fill="#0000ff" stroke="#0000ff" stroke-width="1.4"/><path d="M715.1 1546.2H756.7" stroke="#d8b050" stroke-width="1.9"/><circle cx="735.9" cy="1500.8" r="3.3" fill="#000"/><circle cx="735.9" cy="1507.0" r="3.3" fill="#000"/><rect x="502.6" y="1392.6" width="266.6" height="199.2" fill="none" stroke="#000" stroke-width="1.6"/><path d="M496.3 1427.1H502.6M496.3 1567.3H502.6M535.9 1591.8V1598.1M602.6 1591.8V1598.1M669.2 1591.8V1598.1M735.9 1591.8V1598.1" stroke="#000" stroke-width="1.6"/><text x="487.1" y="1439.3" font-size="35.3" text-anchor="end">0.4</text><text x="487.1" y="1579.5" font-size="35.3" text-anchor="end">0.2</text><text x="541.4" y="1398.3" font-size="35.8" fill="#0000ff">c</text><text x="610.6" y="1483.4" font-size="35.8" fill="#0000ff">b</text><text x="677.5" y="1476.7" font-size="35.8" fill="#0000ff">b</text><text x="741.7" y="1503.7" font-size="35.8" fill="#0000ff">a</text></g>
<g><path d="M906.9 1516.9V1543.7M906.9 1564.8V1583.2M895.7 1516.9H918.1M895.7 1583.2H918.1" stroke="#0000ff" stroke-width="1.8" fill="none"/><rect x="886.8" y="1544.4" width="40.2" height="19.7" fill="#0000ff" stroke="#0000ff" stroke-width="1.4"/><path d="M886.1 1554.9H927.7" stroke="#d8b050" stroke-width="1.9"/><circle cx="906.9" cy="1504.5" r="3.3" fill="#000"/><path d="M974.0 1445.7V1478.5M974.0 1514.9V1553.6M962.8 1445.7H985.2M962.8 1553.6H985.2" stroke="#0000ff" stroke-width="1.8" fill="none"/><rect x="953.9" y="1479.2" width="40.2" height="35.0" fill="#0000ff" stroke="#0000ff" stroke-width="1.4"/><path d="M953.2 1498.3H994.8" stroke="#d8b050" stroke-width="1.9"/><path d="M1041.1 1460.4V1485.9M1041.1 1521.1V1538.0M1029.9 1460.4H1052.3M1029.9 1538.0H1052.3" stroke="#0000ff" stroke-width="1.8" fill="none"/><rect x="1021.0" y="1486.6" width="40.2" height="33.8" fill="#0000ff" stroke="#0000ff" stroke-width="1.4"/><path d="M1020.3 1500.8H1061.9" stroke="#d8b050" stroke-width="1.9"/><path d="M1108.2 1401.1V1450.5M1108.2 1486.7V1514.4M1097.0 1401.1H1119.4M1097.0 1514.4H1119.4" stroke="#0000ff" stroke-width="1.8" fill="none"/><rect x="1088.1" y="1451.2" width="40.2" height="34.8" fill="#0000ff" stroke="#0000ff" stroke-width="1.4"/><path d="M1087.4 1466.6H1129.0" stroke="#d8b050" stroke-width="1.9"/><rect x="873.3" y="1392.6" width="268.5" height="199.2" fill="none" stroke="#000" stroke-width="1.6"/><path d="M867.0 1398.6H873.3M867.0 1504.5H873.3M906.9 1591.8V1598.1M974.0 1591.8V1598.1M1041.1 1591.8V1598.1M1108.2 1591.8V1598.1" stroke="#000" stroke-width="1.6"/><text x="861.0" y="1410.8" font-size="35.3" text-anchor="end">6</text><text x="861.0" y="1516.7" font-size="35.3" text-anchor="end">4</text><text x="913.5" y="1509.5" font-size="35.8" fill="#0000ff">a</text><text x="983.0" y="1437.5" font-size="35.8" fill="#0000ff">b</text><text x="1048.0" y="1452.4" font-size="35.8" fill="#0000ff">b</text><text x="1113.1" y="1392.9" font-size="35.8" fill="#0000ff">c</text></g>
<g><path d="M163.7 1681.5V1724.4M163.7 1757.9V1792.2M152.5 1681.5H174.9M152.5 1792.2H174.9" stroke="#0000ff" stroke-width="1.8" fill="none"/><rect x="143.6" y="1725.1" width="40.2" height="32.1" fill="#0000ff" stroke="#0000ff" stroke-width="1.4"/><path d="M142.9 1736.8H184.5" stroke="#d8b050" stroke-width="1.9"/><circle cx="163.7" cy="1824.2" r="3.3" fill="#000"/><path d="M230.7 1659.5V1680.3M230.7 1706.6V1738.1M219.5 1659.5H241.9M219.5 1738.1H241.9" stroke="#0000ff" stroke-width="1.8" fill="none"/><rect x="210.6" y="1681.0" width="40.2" height="24.9" fill="#0000ff" stroke="#0000ff" stroke-width="1.4"/><path d="M209.9 1693.9H251.5" stroke="#d8b050" stroke-width="1.9"/><circle cx="230.7" cy="1746.8" r="3.3" fill="#000"/><circle cx="230.7" cy="1755.4" r="3.3" fill="#000"/><path d="M297.7 1642.6V1681.5M297.7 1710.1V1741.8M286.5 1642.6H308.9M286.5 1741.8H308.9" stroke="#0000ff" stroke-width="1.8" fill="none"/><rect x="277.6" y="1682.2" width="40.2" height="27.2" fill="#0000ff" stroke="#0000ff" stroke-width="1.4"/><path d="M276.9 1693.9H318.5" stroke="#d8b050" stroke-width="1.9"/><circle cx="297.7" cy="1759.7" r="3.3" fill="#000"/><circle cx="297.7" cy="1767.9" r="3.3" fill="#000"/><circle cx="297.7" cy="1781.5" r="3.3" fill="#000"/><path d="M364.7 1647.1V1660.7M364.7 1694.2V1738.1M353.5 1647.1H375.9M353.5 1738.1H375.9" stroke="#0000ff" stroke-width="1.8" fill="none"/><rect x="344.6" y="1661.4" width="40.2" height="32.1" fill="#0000ff" stroke="#0000ff" stroke-width="1.4"/><path d="M343.9 1676.8H385.5" stroke="#d8b050" stroke-width="1.9"/><rect x="130.2" y="1633.6" width="268.0" height="198.9" fill="none" stroke="#000" stroke-width="1.6"/><path d="M123.9 1706.3H130.2M123.9 1829.9H130.2M163.7 1832.5V1838.8M230.7 1832.5V1838.8M297.7 1832.5V1838.8M364.7 1832.5V1838.8" stroke="#000" stroke-width="1.6"/><text x="115.9" y="1718.5" font-size="35.3" text-anchor="end">0.8</text><text x="115.9" y="1842.1" font-size="35.3" text-anchor="end">0.6</text><text x="169.0" y="1674.1" font-size="35.8" fill="#0000ff">a</text><text x="239.0" y="1651.7" font-size="35.8" fill="#0000ff">b</text><text x="305.5" y="1633.9" font-size="35.8" fill="#0000ff">b</text><text x="369.6" y="1639.3" font-size="35.8" fill="#0000ff">c</text></g>
<g><path d="M535.9 1674.1V1711.1M535.9 1738.6V1769.1M524.7 1674.1H547.1M524.7 1769.1H547.1" stroke="#0000ff" stroke-width="1.8" fill="none"/><rect x="515.8" y="1711.8" width="40.2" height="26.1" fill="#0000ff" stroke="#0000ff" stroke-width="1.4"/><path d="M515.1 1725.7H556.7" stroke="#d8b050" stroke-width="1.9"/><circle cx="535.9" cy="1642.6" r="3.3" fill="#000"/><circle cx="535.9" cy="1657.5" r="3.3" fill="#000"/><path d="M602.6 1744.3V1759.2M602.6 1782.7V1800.8M591.4 1744.3H613.8M591.4 1800.8H613.8" stroke="#0000ff" stroke-width="1.8" fill="none"/><rect x="582.5" y="1759.9" width="40.2" height="22.1" fill="#0000ff" stroke="#0000ff" stroke-width="1.4"/><path d="M581.8 1769.1H623.4" stroke="#d8b050" stroke-width="1.9"/><circle cx="602.6" cy="1698.4" r="3.3" fill="#000"/><circle cx="602.6" cy="1704.6" r="3.3" fill="#000"/><path d="M669.2 1720.7V1750.5M669.2 1780.3V1818.2M658.0 1720.7H680.4M658.0 1818.2H680.4" stroke="#0000ff" stroke-width="1.8" fill="none"/><rect x="649.1" y="1751.2" width="40.2" height="28.4" fill="#0000ff" stroke="#0000ff" stroke-width="1.4"/><path d="M648.4 1769.1H690.0" stroke="#d8b050" stroke-width="1.9"/><circle cx="669.2" cy="1705.1" r="3.3" fill="#000"/><path d="M735.9 1730.6V1771.6M735.9 1803.3V1824.2M724.7 1730.6H747.1M724.7 1824.2H747.1" stroke="#0000ff" stroke-width="1.8" fill="none"/><rect x="715.8" y="1772.3" width="40.2" height="30.3" fill="#0000ff" stroke="#0000ff" stroke-width="1.4"/><path d="M715.1 1793.4H756.7" stroke="#d8b050" stroke-width="1.9"/><circle cx="735.9" cy="1706.3" r="3.3" fill="#000"/><rect x="502.6" y="1633.6" width="266.6" height="198.9" fill="none" stroke="#000" stroke-width="1.6"/><path d="M496.3 1678.1H502.6M496.3 1781.5H502.6M535.9 1832.5V1838.8M602.6 1832.5V1838.8M669.2 1832.5V1838.8M735.9 1832.5V1838.8" stroke="#000" stroke-width="1.6"/><text x="487.1" y="1690.3" font-size="35.3" text-anchor="end">0.15</text><text x="487.1" y="1793.7" font-size="35.3" text-anchor="end">0.10</text><text x="541.4" y="1666.1" font-size="35.8" fill="#0000ff">c</text><text x="610.6" y="1736.1" font-size="35.8" fill="#0000ff">b</text><text x="676.8" y="1712.8" font-size="35.8" fill="#0000ff">b</text><text x="741.7" y="1722.7" font-size="35.8" fill="#0000ff">a</text></g>
<g><path d="M906.9 1719.5V1758.7M906.9 1786.0V1824.2M895.7 1719.5H918.1M895.7 1824.2H918.1" stroke="#0000ff" stroke-width="1.8" fill="none"/><rect x="886.8" y="1759.4" width="40.2" height="25.9" fill="#0000ff" stroke="#0000ff" stroke-width="1.4"/><path d="M886.1 1776.0H927.7" stroke="#d8b050" stroke-width="1.9"/><path d="M974.0 1685.3V1715.8M974.0 1751.7V1789.7M962.8 1685.3H985.2M962.8 1789.7H985.2" stroke="#0000ff" stroke-width="1.8" fill="none"/><rect x="953.9" y="1716.5" width="40.2" height="34.5" fill="#0000ff" stroke="#0000ff" stroke-width="1.4"/><path d="M953.2 1735.6H994.8" stroke="#d8b050" stroke-width="1.9"/><path d="M1041.1 1692.7V1719.5M1041.1 1751.7V1790.9M1029.9 1692.7H1052.3M1029.9 1790.9H1052.3" stroke="#0000ff" stroke-width="1.8" fill="none"/><rect x="1021.0" y="1720.2" width="40.2" height="30.8" fill="#0000ff" stroke="#0000ff" stroke-width="1.4"/><path d="M1020.3 1734.9H1061.9" stroke="#d8b050" stroke-width="1.9"/><circle cx="1041.1" cy="1642.6" r="3.3" fill="#000"/><circle cx="1041.1" cy="1659.5" r="3.3" fill="#000"/><path d="M1108.2 1656.2V1693.9M1108.2 1732.4V1784.0M1097.0 1656.2H1119.4M1097.0 1784.0H1119.4" stroke="#0000ff" stroke-width="1.8" fill="none"/><rect x="1088.1" y="1694.6" width="40.2" height="37.1" fill="#0000ff" stroke="#0000ff" stroke-width="1.4"/><path d="M1087.4 1713.8H1129.0" stroke="#d8b050" stroke-width="1.9"/><rect x="873.3" y="1633.6" width="268.5" height="198.9" fill="none" stroke="#000" stroke-width="1.6"/><path d="M867.0 1663.2H873.3M867.0 1764.1H873.3M906.9 1832.5V1838.8M974.0 1832.5V1838.8M1041.1 1832.5V1838.8M1108.2 1832.5V1838.8" stroke="#000" stroke-width="1.6"/><text x="861.0" y="1675.4" font-size="35.3" text-anchor="end">3</text><text x="861.0" y="1776.3" font-size="35.3" text-anchor="end">2</text><text x="913.3" y="1711.3" font-size="35.8" fill="#0000ff">a</text><text x="982.3" y="1676.5" font-size="35.8" fill="#0000ff">b</text><text x="1048.0" y="1684.7" font-size="35.8" fill="#0000ff">b</text><text x="1112.3" y="1647.5" font-size="35.8" fill="#0000ff">c</text></g>
<g><path d="M163.7 1905.2V1948.1M163.7 1990.3V2030.7M152.5 1905.2H174.9M152.5 2030.7H174.9" stroke="#0000ff" stroke-width="1.8" fill="none"/><rect x="143.6" y="1948.8" width="40.2" height="40.8" fill="#0000ff" stroke="#0000ff" stroke-width="1.4"/><path d="M142.9 1966.7H184.5" stroke="#d8b050" stroke-width="1.9"/><circle cx="163.7" cy="2056.0" r="3.3" fill="#000"/><circle cx="163.7" cy="2065.1" r="3.3" fill="#000"/><path d="M230.7 1895.3V1934.4M230.7 1969.7V2010.8M219.5 1895.3H241.9M219.5 2010.8H241.9" stroke="#0000ff" stroke-width="1.8" fill="none"/><rect x="210.6" y="1935.1" width="40.2" height="33.9" fill="#0000ff" stroke="#0000ff" stroke-width="1.4"/><path d="M209.9 1955.5H251.5" stroke="#d8b050" stroke-width="1.9"/><circle cx="230.7" cy="2022.0" r="3.3" fill="#000"/><path d="M297.7 1908.9V1950.6M297.7 2001.4V2062.7M286.5 1908.9H308.9M286.5 2062.7H308.9" stroke="#0000ff" stroke-width="1.8" fill="none"/><rect x="277.6" y="1951.3" width="40.2" height="49.4" fill="#0000ff" stroke="#0000ff" stroke-width="1.4"/><path d="M276.9 1967.9H318.5" stroke="#d8b050" stroke-width="1.9"/><path d="M364.7 1884.6V1924.8M364.7 1957.3V2002.6M353.5 1884.6H375.9M353.5 2002.6H375.9" stroke="#0000ff" stroke-width="1.8" fill="none"/><rect x="344.6" y="1925.5" width="40.2" height="31.1" fill="#0000ff" stroke="#0000ff" stroke-width="1.4"/><path d="M343.9 1940.9H385.5" stroke="#d8b050" stroke-width="1.9"/><circle cx="364.7" cy="2025.7" r="3.3" fill="#000"/><circle cx="364.7" cy="2043.1" r="3.3" fill="#000"/><circle cx="364.7" cy="2065.1" r="3.3" fill="#000"/><rect x="130.2" y="1874.6" width="268.0" height="199.4" fill="none" stroke="#000" stroke-width="1.6"/><path d="M123.9 1923.8H130.2M123.9 2049.3H130.2M163.7 2074.0V2080.3M230.7 2074.0V2080.3M297.7 2074.0V2080.3M364.7 2074.0V2080.3" stroke="#000" stroke-width="1.6"/><text x="115.9" y="1936.0" font-size="35.3" text-anchor="end">0.9</text><text x="115.9" y="2061.5" font-size="35.3" text-anchor="end">0.8</text><text x="169.0" y="1897.2" font-size="35.8" fill="#0000ff">a</text><text x="239.0" y="1887.3" font-size="35.8" fill="#0000ff">b</text><text x="303.5" y="1901.7" font-size="35.8" fill="#0000ff">a</text><text x="372.5" y="1876.1" font-size="35.8" fill="#0000ff">b</text></g>
<g><path d="M535.9 1931.2V1960.5M535.9 1994.0V2023.2M524.7 1931.2H547.1M524.7 2023.2H547.1" stroke="#0000ff" stroke-width="1.8" fill="none"/><rect x="515.8" y="1961.2" width="40.2" height="32.1" fill="#0000ff" stroke="#0000ff" stroke-width="1.4"/><path d="M515.1 1975.4H556.7" stroke="#d8b050" stroke-width="1.9"/><path d="M602.6 1934.9V1967.9M602.6 2005.9V2049.0M591.4 1934.9H613.8M591.4 2049.0H613.8" stroke="#0000ff" stroke-width="1.8" fill="none"/><rect x="582.5" y="1968.6" width="40.2" height="36.6" fill="#0000ff" stroke="#0000ff" stroke-width="1.4"/><path d="M581.8 1981.6H623.4" stroke="#d8b050" stroke-width="1.9"/><path d="M669.2 1926.3V1955.5M669.2 1989.5V2026.7M658.0 1926.3H680.4M658.0 2026.7H680.4" stroke="#0000ff" stroke-width="1.8" fill="none"/><rect x="649.1" y="1956.2" width="40.2" height="32.6" fill="#0000ff" stroke="#0000ff" stroke-width="1.4"/><path d="M648.4 1967.9H690.0" stroke="#d8b050" stroke-width="1.9"/><circle cx="669.2" cy="1884.8" r="3.3" fill="#000"/><path d="M735.9 1931.2V1972.9M735.9 2027.0V2065.1M724.7 1931.2H747.1M724.7 2065.1H747.1" stroke="#0000ff" stroke-width="1.8" fill="none"/><rect x="715.8" y="1973.6" width="40.2" height="52.7" fill="#0000ff" stroke="#0000ff" stroke-width="1.4"/><path d="M715.1 1997.7H756.7" stroke="#d8b050" stroke-width="1.9"/><circle cx="735.9" cy="1888.1" r="3.3" fill="#000"/><rect x="502.6" y="1874.6" width="266.6" height="199.4" fill="none" stroke="#000" stroke-width="1.6"/><path d="M496.3 1961.0H502.6M496.3 2065.1H502.6M535.9 2074.0V2080.3M602.6 2074.0V2080.3M669.2 2074.0V2080.3M735.9 2074.0V2080.3" stroke="#000" stroke-width="1.6"/><text x="487.1" y="1973.2" font-size="35.3" text-anchor="end">0.075</text><text x="487.1" y="2077.3" font-size="35.3" text-anchor="end">0.050</text><text x="543.6" y="1922.5" font-size="35.8" fill="#0000ff">bc</text><text x="608.5" y="1927.0" font-size="35.8" fill="#0000ff">ab</text><text x="674.6" y="1917.0" font-size="35.8" fill="#0000ff">c</text><text x="741.7" y="1923.2" font-size="35.8" fill="#0000ff">a</text></g>
<g><path d="M906.9 1928.7V1977.8M906.9 2015.1V2057.7M895.7 1928.7H918.1M895.7 2057.7H918.1" stroke="#0000ff" stroke-width="1.8" fill="none"/><rect x="886.8" y="1978.5" width="40.2" height="35.9" fill="#0000ff" stroke="#0000ff" stroke-width="1.4"/><path d="M886.1 1995.2H927.7" stroke="#d8b050" stroke-width="1.9"/><path d="M974.0 1931.2V1963.0M974.0 1998.9V2028.2M962.8 1931.2H985.2M962.8 2028.2H985.2" stroke="#0000ff" stroke-width="1.8" fill="none"/><rect x="953.9" y="1963.7" width="40.2" height="34.5" fill="#0000ff" stroke="#0000ff" stroke-width="1.4"/><path d="M953.2 1984.8H994.8" stroke="#d8b050" stroke-width="1.9"/><circle cx="974.0" cy="1903.0" r="3.3" fill="#000"/><circle cx="974.0" cy="1906.4" r="3.3" fill="#000"/><path d="M1041.1 1938.7V1977.8M1041.1 2019.5V2056.5M1029.9 1938.7H1052.3M1029.9 2056.5H1052.3" stroke="#0000ff" stroke-width="1.8" fill="none"/><rect x="1021.0" y="1978.5" width="40.2" height="40.3" fill="#0000ff" stroke="#0000ff" stroke-width="1.4"/><path d="M1020.3 1996.4H1061.9" stroke="#d8b050" stroke-width="1.9"/><path d="M1108.2 1898.0V1954.8M1108.2 1992.7V2043.1M1097.0 1898.0H1119.4M1097.0 2043.1H1119.4" stroke="#0000ff" stroke-width="1.8" fill="none"/><rect x="1088.1" y="1955.5" width="40.2" height="36.5" fill="#0000ff" stroke="#0000ff" stroke-width="1.4"/><path d="M1087.4 1971.6H1129.0" stroke="#d8b050" stroke-width="1.9"/><circle cx="1108.2" cy="1884.3" r="3.3" fill="#000"/><circle cx="1108.2" cy="2065.1" r="3.3" fill="#000"/><rect x="873.3" y="1874.6" width="268.5" height="199.4" fill="none" stroke="#000" stroke-width="1.6"/><path d="M867.0 1962.2H873.3M867.0 2065.1H873.3M906.9 2074.0V2080.3M974.0 2074.0V2080.3M1041.1 2074.0V2080.3M1108.2 2074.0V2080.3" stroke="#000" stroke-width="1.6"/><text x="861.0" y="1974.4" font-size="35.3" text-anchor="end">3</text><text x="861.0" y="2077.3" font-size="35.3" text-anchor="end">2</text><text x="912.8" y="1920.8" font-size="35.8" fill="#0000ff">ab</text><text x="979.7" y="1923.2" font-size="35.8" fill="#0000ff">abc</text><text x="1046.7" y="1930.7" font-size="35.8" fill="#0000ff">a</text><text x="1112.3" y="1889.3" font-size="35.8" fill="#0000ff">c</text></g>
<g><path d="M163.7 2144.9V2155.6M163.7 2171.2V2190.3M152.5 2144.9H174.9M152.5 2190.3H174.9" stroke="#0000ff" stroke-width="1.8" fill="none"/><rect x="143.6" y="2156.3" width="40.2" height="14.2" fill="#0000ff" stroke="#0000ff" stroke-width="1.4"/><path d="M142.9 2160.6H184.5" stroke="#d8b050" stroke-width="1.9"/><circle cx="163.7" cy="2133.8" r="3.3" fill="#000"/><path d="M230.7 2127.6V2143.2M230.7 2154.9V2166.8M219.5 2127.6H241.9M219.5 2166.8H241.9" stroke="#0000ff" stroke-width="1.8" fill="none"/><rect x="210.6" y="2143.9" width="40.2" height="10.3" fill="#0000ff" stroke="#0000ff" stroke-width="1.4"/><path d="M209.9 2149.4H251.5" stroke="#d8b050" stroke-width="1.9"/><circle cx="230.7" cy="2174.2" r="3.3" fill="#000"/><circle cx="230.7" cy="2179.2" r="3.3" fill="#000"/><path d="M297.7 2127.6V2138.2M297.7 2147.4V2158.1M286.5 2127.6H308.9M286.5 2158.1H308.9" stroke="#0000ff" stroke-width="1.8" fill="none"/><rect x="277.6" y="2138.9" width="40.2" height="7.8" fill="#0000ff" stroke="#0000ff" stroke-width="1.4"/><path d="M276.9 2144.4H318.5" stroke="#d8b050" stroke-width="1.9"/><circle cx="297.7" cy="2125.3" r="3.3" fill="#000"/><circle cx="297.7" cy="2175.9" r="3.3" fill="#000"/><path d="M364.7 2142.0V2153.1M364.7 2213.9V2293.7M353.5 2142.0H375.9M353.5 2293.7H375.9" stroke="#0000ff" stroke-width="1.8" fill="none"/><rect x="344.6" y="2153.8" width="40.2" height="59.4" fill="#0000ff" stroke="#0000ff" stroke-width="1.4"/><path d="M343.9 2195.3H385.5" stroke="#d8b050" stroke-width="1.9"/><circle cx="364.7" cy="2307.4" r="3.3" fill="#000"/><rect x="130.2" y="2116.0" width="268.0" height="199.0" fill="none" stroke="#000" stroke-width="1.6"/><path d="M123.9 2159.8H130.2M123.9 2221.3H130.2M123.9 2282.8H130.2M163.7 2315.0V2321.3M230.7 2315.0V2321.3M297.7 2315.0V2321.3M364.7 2315.0V2321.3" stroke="#000" stroke-width="1.6"/><text x="115.9" y="2172.0" font-size="35.3" text-anchor="end">0.9</text><text x="115.9" y="2233.5" font-size="35.3" text-anchor="end">0.8</text><text x="115.9" y="2295.0" font-size="35.3" text-anchor="end">0.7</text><text x="171.6" y="2137.0" font-size="35.8" fill="#0000ff">b</text><text x="235.7" y="2120.3" font-size="35.8" fill="#0000ff">c</text><text x="302.6" y="2120.3" font-size="35.8" fill="#0000ff">c</text><text x="369.7" y="2135.2" font-size="35.8" fill="#0000ff">a</text></g>
<g><path d="M535.9 2232.0V2250.4M535.9 2263.0V2280.1M524.7 2232.0H547.1M524.7 2280.1H547.1" stroke="#0000ff" stroke-width="1.8" fill="none"/><rect x="515.8" y="2251.1" width="40.2" height="11.2" fill="#0000ff" stroke="#0000ff" stroke-width="1.4"/><path d="M515.1 2255.3H556.7" stroke="#d8b050" stroke-width="1.9"/><path d="M602.6 2251.8V2268.5M602.6 2285.3V2297.5M591.4 2251.8H613.8M591.4 2297.5H613.8" stroke="#0000ff" stroke-width="1.8" fill="none"/><rect x="582.5" y="2269.2" width="40.2" height="15.4" fill="#0000ff" stroke="#0000ff" stroke-width="1.4"/><path d="M581.8 2274.7H623.4" stroke="#d8b050" stroke-width="1.9"/><path d="M669.2 2257.8V2277.1M669.2 2295.0V2307.4M658.0 2257.8H680.4M658.0 2307.4H680.4" stroke="#0000ff" stroke-width="1.8" fill="none"/><rect x="649.1" y="2277.8" width="40.2" height="16.5" fill="#0000ff" stroke="#0000ff" stroke-width="1.4"/><path d="M648.4 2286.6H690.0" stroke="#d8b050" stroke-width="1.9"/><circle cx="669.2" cy="2250.4" r="3.3" fill="#000"/><path d="M735.9 2125.3V2191.6M735.9 2275.1V2297.5M724.7 2125.3H747.1M724.7 2297.5H747.1" stroke="#0000ff" stroke-width="1.8" fill="none"/><rect x="715.8" y="2192.3" width="40.2" height="82.1" fill="#0000ff" stroke="#0000ff" stroke-width="1.4"/><path d="M715.1 2222.6H756.7" stroke="#d8b050" stroke-width="1.9"/><rect x="502.6" y="2116.0" width="266.6" height="199.0" fill="none" stroke="#000" stroke-width="1.6"/><path d="M496.3 2182.1H502.6M496.3 2306.2H502.6M535.9 2315.0V2321.3M602.6 2315.0V2321.3M669.2 2315.0V2321.3M735.9 2315.0V2321.3" stroke="#000" stroke-width="1.6"/><text x="487.1" y="2194.3" font-size="35.3" text-anchor="end">0.4</text><text x="487.1" y="2318.4" font-size="35.3" text-anchor="end">0.2</text><text x="543.6" y="2224.3" font-size="35.8" fill="#0000ff">b</text><text x="608.5" y="2244.1" font-size="35.8" fill="#0000ff">a</text><text x="674.7" y="2249.8" font-size="35.8" fill="#0000ff">a</text><text x="741.6" y="2116.6" font-size="35.8" fill="#0000ff">c</text></g>
<g><path d="M906.9 2195.3V2215.9M906.9 2237.5V2261.5M895.7 2195.3H918.1M895.7 2261.5H918.1" stroke="#0000ff" stroke-width="1.8" fill="none"/><rect x="886.8" y="2216.6" width="40.2" height="20.2" fill="#0000ff" stroke="#0000ff" stroke-width="1.4"/><path d="M886.1 2224.6H927.7" stroke="#d8b050" stroke-width="1.9"/><circle cx="906.9" cy="2173.5" r="3.3" fill="#000"/><path d="M974.0 2163.0V2192.8M974.0 2217.6V2247.9M962.8 2163.0H985.2M962.8 2247.9H985.2" stroke="#0000ff" stroke-width="1.8" fill="none"/><rect x="953.9" y="2193.5" width="40.2" height="23.4" fill="#0000ff" stroke="#0000ff" stroke-width="1.4"/><path d="M953.2 2207.2H994.8" stroke="#d8b050" stroke-width="1.9"/><circle cx="974.0" cy="2153.6" r="3.3" fill="#000"/><path d="M1041.1 2168.0V2186.6M1041.1 2201.5V2222.6M1029.9 2168.0H1052.3M1029.9 2222.6H1052.3" stroke="#0000ff" stroke-width="1.8" fill="none"/><rect x="1021.0" y="2187.3" width="40.2" height="13.5" fill="#0000ff" stroke="#0000ff" stroke-width="1.4"/><path d="M1020.3 2194.0H1061.9" stroke="#d8b050" stroke-width="1.9"/><circle cx="1041.1" cy="2125.3" r="3.3" fill="#000"/><circle cx="1041.1" cy="2137.7" r="3.3" fill="#000"/><circle cx="1041.1" cy="2161.3" r="3.3" fill="#000"/><circle cx="1041.1" cy="2250.6" r="3.3" fill="#000"/><path d="M1108.2 2189.3V2210.2M1108.2 2274.7V2307.4M1097.0 2189.3H1119.4M1097.0 2307.4H1119.4" stroke="#0000ff" stroke-width="1.8" fill="none"/><rect x="1088.1" y="2210.9" width="40.2" height="63.1" fill="#0000ff" stroke="#0000ff" stroke-width="1.4"/><path d="M1087.4 2257.8H1129.0" stroke="#d8b050" stroke-width="1.9"/><rect x="873.3" y="2116.0" width="268.5" height="199.0" fill="none" stroke="#000" stroke-width="1.6"/><path d="M867.0 2166.0H873.3M867.0 2287.5H873.3M906.9 2315.0V2321.3M974.0 2315.0V2321.3M1041.1 2315.0V2321.3M1108.2 2315.0V2321.3" stroke="#000" stroke-width="1.6"/><text x="861.0" y="2178.2" font-size="35.3" text-anchor="end">4</text><text x="861.0" y="2299.7" font-size="35.3" text-anchor="end">2</text><text x="914.8" y="2186.6" font-size="35.8" fill="#0000ff">b</text><text x="979.6" y="2155.1" font-size="35.8" fill="#0000ff">c</text><text x="1046.7" y="2160.0" font-size="35.8" fill="#0000ff">d</text><text x="1113.2" y="2180.4" font-size="35.8" fill="#0000ff">a</text></g>
<g><path d="M163.7 2378.5V2416.4M163.7 2451.2V2490.1M152.5 2378.5H174.9M152.5 2490.1H174.9" stroke="#0000ff" stroke-width="1.8" fill="none"/><rect x="143.6" y="2417.1" width="40.2" height="33.4" fill="#0000ff" stroke="#0000ff" stroke-width="1.4"/><path d="M142.9 2434.6H184.5" stroke="#d8b050" stroke-width="1.9"/><circle cx="163.7" cy="2547.9" r="3.3" fill="#000"/><path d="M230.7 2369.3V2399.1M230.7 2429.3V2471.8M219.5 2369.3H241.9M219.5 2471.8H241.9" stroke="#0000ff" stroke-width="1.8" fill="none"/><rect x="210.6" y="2399.8" width="40.2" height="28.8" fill="#0000ff" stroke="#0000ff" stroke-width="1.4"/><path d="M209.9 2411.5H251.5" stroke="#d8b050" stroke-width="1.9"/><circle cx="230.7" cy="2500.0" r="3.3" fill="#000"/><circle cx="230.7" cy="2524.8" r="3.3" fill="#000"/><circle cx="230.7" cy="2535.5" r="3.3" fill="#000"/><path d="M297.7 2367.3V2389.7M297.7 2423.1V2469.3M286.5 2367.3H308.9M286.5 2469.3H308.9" stroke="#0000ff" stroke-width="1.8" fill="none"/><rect x="277.6" y="2390.4" width="40.2" height="32.0" fill="#0000ff" stroke="#0000ff" stroke-width="1.4"/><path d="M276.9 2402.1H318.5" stroke="#d8b050" stroke-width="1.9"/><circle cx="297.7" cy="2488.9" r="3.3" fill="#000"/><path d="M364.7 2387.9V2422.6M364.7 2467.8V2507.5M353.5 2387.9H375.9M353.5 2507.5H375.9" stroke="#0000ff" stroke-width="1.8" fill="none"/><rect x="344.6" y="2423.3" width="40.2" height="43.8" fill="#0000ff" stroke="#0000ff" stroke-width="1.4"/><path d="M343.9 2439.5H385.5" stroke="#d8b050" stroke-width="1.9"/><circle cx="364.7" cy="2539.2" r="3.3" fill="#000"/><circle cx="364.7" cy="2547.9" r="3.3" fill="#000"/><rect x="130.2" y="2356.9" width="268.0" height="199.2" fill="none" stroke="#000" stroke-width="1.6"/><path d="M123.9 2416.4H130.2M123.9 2521.1H130.2M163.7 2556.1V2562.4M230.7 2556.1V2562.4M297.7 2556.1V2562.4M364.7 2556.1V2562.4" stroke="#000" stroke-width="1.6"/><text x="115.9" y="2428.6" font-size="35.3" text-anchor="end">0.8</text><text x="115.9" y="2533.3" font-size="35.3" text-anchor="end">0.6</text><text x="163.7" y="2594.9" font-size="35.3" text-anchor="middle">0</text><text x="230.7" y="2594.9" font-size="35.3" text-anchor="middle">2</text><text x="297.7" y="2594.9" font-size="35.3" text-anchor="middle">5</text><text x="364.7" y="2594.9" font-size="35.3" text-anchor="middle">10</text><text x="169.0" y="2370.5" font-size="35.8" fill="#0000ff">ab</text><text x="239.0" y="2361.8" font-size="35.8" fill="#0000ff">bc</text><text x="302.6" y="2359.4" font-size="35.8" fill="#0000ff">c</text><text x="369.7" y="2380.4" font-size="35.8" fill="#0000ff">a</text></g>
<g><path d="M535.9 2436.3V2455.6M535.9 2484.2V2513.7M524.7 2436.3H547.1M524.7 2513.7H547.1" stroke="#0000ff" stroke-width="1.8" fill="none"/><rect x="515.8" y="2456.3" width="40.2" height="27.2" fill="#0000ff" stroke="#0000ff" stroke-width="1.4"/><path d="M515.1 2469.0H556.7" stroke="#d8b050" stroke-width="1.9"/><path d="M602.6 2449.9V2470.3M602.6 2505.2V2534.8M591.4 2449.9H613.8M591.4 2534.8H613.8" stroke="#0000ff" stroke-width="1.8" fill="none"/><rect x="582.5" y="2471.0" width="40.2" height="33.5" fill="#0000ff" stroke="#0000ff" stroke-width="1.4"/><path d="M581.8 2490.1H623.4" stroke="#d8b050" stroke-width="1.9"/><path d="M669.2 2465.6V2492.6M669.2 2516.1V2548.4M658.0 2465.6H680.4M658.0 2548.4H680.4" stroke="#0000ff" stroke-width="1.8" fill="none"/><rect x="649.1" y="2493.3" width="40.2" height="22.1" fill="#0000ff" stroke="#0000ff" stroke-width="1.4"/><path d="M648.4 2501.5H690.0" stroke="#d8b050" stroke-width="1.9"/><path d="M735.9 2390.4V2446.9M735.9 2490.4V2532.3M724.7 2390.4H747.1M724.7 2532.3H747.1" stroke="#0000ff" stroke-width="1.8" fill="none"/><rect x="715.8" y="2447.6" width="40.2" height="42.1" fill="#0000ff" stroke="#0000ff" stroke-width="1.4"/><path d="M715.1 2472.7H756.7" stroke="#d8b050" stroke-width="1.9"/><circle cx="735.9" cy="2367.6" r="3.3" fill="#000"/><circle cx="735.9" cy="2371.1" r="3.3" fill="#000"/><circle cx="735.9" cy="2379.2" r="3.3" fill="#000"/><rect x="502.6" y="2356.9" width="266.6" height="199.2" fill="none" stroke="#000" stroke-width="1.6"/><path d="M496.3 2423.1H502.6M496.3 2556.1H502.6M535.9 2556.1V2562.4M602.6 2556.1V2562.4M669.2 2556.1V2562.4M735.9 2556.1V2562.4" stroke="#000" stroke-width="1.6"/><text x="487.1" y="2435.3" font-size="35.3" text-anchor="end">0.10</text><text x="487.1" y="2568.3" font-size="35.3" text-anchor="end">0.05</text><text x="535.9" y="2594.9" font-size="35.3" text-anchor="middle">0</text><text x="602.6" y="2594.9" font-size="35.3" text-anchor="middle">2</text><text x="669.2" y="2594.9" font-size="35.3" text-anchor="middle">5</text><text x="735.9" y="2594.9" font-size="35.3" text-anchor="middle">10</text><text x="541.4" y="2427.6" font-size="35.8" fill="#0000ff">c</text><text x="610.6" y="2441.2" font-size="35.8" fill="#0000ff">b</text><text x="674.7" y="2458.1" font-size="35.8" fill="#0000ff">a</text><text x="741.6" y="2382.2" font-size="35.8" fill="#0000ff">c</text></g>
<g><path d="M906.9 2423.9V2463.1M906.9 2500.3V2548.4M895.7 2423.9H918.1M895.7 2548.4H918.1" stroke="#0000ff" stroke-width="1.8" fill="none"/><rect x="886.8" y="2463.8" width="40.2" height="35.8" fill="#0000ff" stroke="#0000ff" stroke-width="1.4"/><path d="M886.1 2478.0H927.7" stroke="#d8b050" stroke-width="1.9"/><circle cx="906.9" cy="2404.0" r="3.3" fill="#000"/><path d="M974.0 2388.4V2438.8M974.0 2479.2V2534.3M962.8 2388.4H985.2M962.8 2534.3H985.2" stroke="#0000ff" stroke-width="1.8" fill="none"/><rect x="953.9" y="2439.5" width="40.2" height="39.0" fill="#0000ff" stroke="#0000ff" stroke-width="1.4"/><path d="M953.2 2453.2H994.8" stroke="#d8b050" stroke-width="1.9"/><circle cx="974.0" cy="2544.2" r="3.3" fill="#000"/><path d="M1041.1 2367.3V2417.7M1041.1 2465.6V2522.3M1029.9 2367.3H1052.3M1029.9 2522.3H1052.3" stroke="#0000ff" stroke-width="1.8" fill="none"/><rect x="1021.0" y="2418.4" width="40.2" height="46.5" fill="#0000ff" stroke="#0000ff" stroke-width="1.4"/><path d="M1020.3 2443.7H1061.9" stroke="#d8b050" stroke-width="1.9"/><path d="M1108.2 2417.7V2464.3M1108.2 2508.7V2541.0M1097.0 2417.7H1119.4M1097.0 2541.0H1119.4" stroke="#0000ff" stroke-width="1.8" fill="none"/><rect x="1088.1" y="2465.0" width="40.2" height="43.0" fill="#0000ff" stroke="#0000ff" stroke-width="1.4"/><path d="M1087.4 2481.4H1129.0" stroke="#d8b050" stroke-width="1.9"/><rect x="873.3" y="2356.9" width="268.5" height="199.2" fill="none" stroke="#000" stroke-width="1.6"/><path d="M867.0 2372.3H873.3M867.0 2478.9H873.3M906.9 2556.1V2562.4M974.0 2556.1V2562.4M1041.1 2556.1V2562.4M1108.2 2556.1V2562.4" stroke="#000" stroke-width="1.6"/><text x="861.0" y="2384.5" font-size="35.3" text-anchor="end">3</text><text x="861.0" y="2491.1" font-size="35.3" text-anchor="end">2</text><text x="906.9" y="2594.9" font-size="35.3" text-anchor="middle">0</text><text x="974.0" y="2594.9" font-size="35.3" text-anchor="middle">2</text><text x="1041.1" y="2594.9" font-size="35.3" text-anchor="middle">5</text><text x="1108.2" y="2594.9" font-size="35.3" text-anchor="middle">10</text><text x="913.3" y="2416.4" font-size="35.8" fill="#0000ff">a</text><text x="983.0" y="2379.2" font-size="35.8" fill="#0000ff">b</text><text x="1046.6" y="2358.9" font-size="35.8" fill="#0000ff">c</text><text x="1113.2" y="2409.5" font-size="35.8" fill="#0000ff">a</text></g>
<text x="234.1" y="42.6" font-size="45.2">R</text>
<text x="265.3" y="24.8" font-size="35.5">2</text>
<text x="576.6" y="44.0" font-size="45.5">RMSE</text>
<text x="975.7" y="44.0" font-size="45.4">RPD</text>
<text x="240.3" y="1379.6" font-size="44.4">R</text>
<text x="270.7" y="1362.6" font-size="35.6">2</text>
<text x="575.2" y="1381.0" font-size="44.6">RMSE</text>
<text x="964.5" y="1381.0" font-size="44.5">RPD</text>
<text transform="translate(28.7,156.5) rotate(-90)" x="0" y="0" font-size="38.5" text-anchor="middle">N</text>
<text transform="translate(49.0,402.3) rotate(-90)" x="0" y="0" font-size="38.5" text-anchor="middle">P</text>
<text transform="translate(48.6,647.2) rotate(-90)" x="0" y="0" font-size="38.5" text-anchor="middle">Mg</text>
<text transform="translate(49.6,892.0) rotate(-90)" x="0" y="0" font-size="38.5" text-anchor="middle">Ca</text>
<text transform="translate(51.4,1135.6) rotate(-90)" x="0" y="0" font-size="38.5" text-anchor="middle">S</text>
<text transform="translate(36.6,1491.9) rotate(-90)" x="0" y="0" font-size="37.2" text-anchor="middle">N</text>
<text transform="translate(57.2,1735.0) rotate(-90)" x="0" y="0" font-size="37.2" text-anchor="middle">P</text>
<text transform="translate(57.5,1972.0) rotate(-90)" x="0" y="0" font-size="37.2" text-anchor="middle">Mg</text>
<text transform="translate(57.2,2218.0) rotate(-90)" x="0" y="0" font-size="37.2" text-anchor="middle">Ca</text>
<text transform="translate(58.4,2459.6) rotate(-90)" x="0" y="0" font-size="37.2" text-anchor="middle">S</text>
</svg>
</body></html>
